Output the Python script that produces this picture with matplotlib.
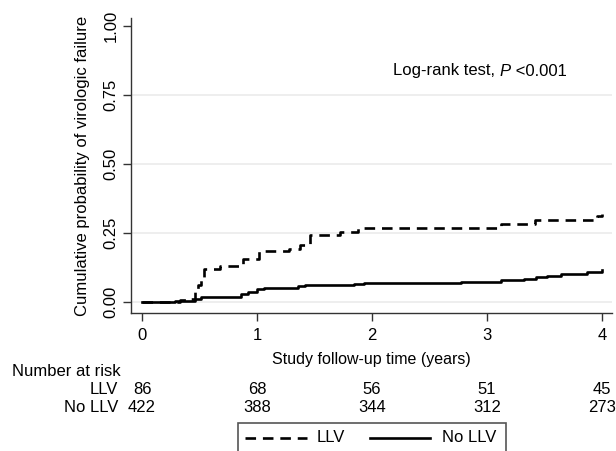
import matplotlib
matplotlib.use("Agg")
import matplotlib.pyplot as plt
from matplotlib.transforms import blended_transform_factory
from matplotlib.patches import Rectangle
from matplotlib.lines import Line2D

plt.rcParams['font.family'] = ['Liberation Sans', 'DejaVu Sans']

# Data
llv_t = [0.0, 0.33, 0.42, 0.46, 0.49, 0.51, 0.54, 0.68, 0.88, 1.02, 1.28, 1.37, 1.46, 1.72, 1.88, 3.12, 3.42, 3.96, 4.0]
llv_y = [0.0, 0.006, 0.012, 0.035, 0.06, 0.09, 0.118, 0.13, 0.154, 0.184, 0.192, 0.208, 0.242, 0.253, 0.268, 0.283, 0.298, 0.31, 0.32]
nollv_t = [0.0, 0.29, 0.46, 0.51, 0.86, 0.92, 1.0, 1.06, 1.36, 1.42, 1.84, 1.93, 2.77, 3.12, 3.32, 3.43, 3.52, 3.64, 3.87, 4.0]
nollv_y = [0.0, 0.004, 0.01, 0.019, 0.028, 0.037, 0.046, 0.052, 0.058, 0.061, 0.066, 0.07, 0.074, 0.078, 0.084, 0.089, 0.094, 0.10, 0.108, 0.115]

risk_times = [0, 1, 2, 3, 4]
risk_llv = [86, 68, 56, 51, 45]
risk_nollv = [422, 388, 344, 312, 273]
x_ticks = [0, 1, 2, 3, 4]
y_ticks = [0.0, 0.25, 0.50, 0.75, 1.00]
y_ticklabels = ["0.00", "0.25", "0.50", "0.75", "1.00"]

W, H = 616, 451
fig = plt.figure(figsize=(W / 100, H / 100), dpi=100)
left, right, bottom, top = 131, 612, 313, 18
ax = fig.add_axes([left / W, 1 - bottom / H, (right - left) / W, (bottom - top) / H])

ax.set_xlim(-0.0957, 4.087)
ax.set_ylim(-0.04, 1.029)

for yv in [0.0, 0.25, 0.5, 0.75]:
    ax.axhline(yv, color='#ebebeb', lw=1.2, zorder=0)

ax.step(llv_t, llv_y, where='post', color='black', lw=1.9, linestyle=(0, (4, 2.6)))
ax.step(nollv_t, nollv_y, where='post', color='black', lw=1.9)

for s in ['top', 'right']:
    ax.spines[s].set_visible(False)
for s in ['left', 'bottom']:
    ax.spines[s].set_color('#333333')
    ax.spines[s].set_linewidth(1.0)

ax.set_xticks(x_ticks)
ax.set_xticklabels([str(t) for t in x_ticks])
ax.set_yticks(y_ticks)
ax.set_yticklabels(y_ticklabels, rotation=90, va='center')
ax.tick_params(axis='both', labelsize=12, length=6, width=1.0, color='#333333')
ax.tick_params(axis='x', pad=5)
ax.tick_params(axis='y', pad=3)

ax.set_xlabel("Study follow-up time (years)", fontsize=11.5, labelpad=6)
ax.set_ylabel("Cumulative probability of virologic failure", fontsize=12, labelpad=10)

t1 = fig.text(393 / W, 1 - 71 / H, "Log-rank test, ", fontsize=12, va='center', ha='left')
fig.canvas.draw()
r = fig.canvas.get_renderer()
bb = t1.get_window_extent(r)
t2 = fig.text(bb.x1 / W, 1 - 71 / H, "P", fontsize=12, va='center', ha='left', style='italic')
bb2 = t2.get_window_extent(r)
fig.text(bb2.x1 / W, 1 - 71 / H, " <0.001", fontsize=12, va='center', ha='left')

# Risk table
tr = blended_transform_factory(ax.transData, fig.transFigure)
fig.text(12 / W, 1 - 372 / H, "Number at risk", fontsize=12, va='center', ha='left')
fig.text(118 / W, 1 - 389 / H, "LLV", fontsize=12, va='center', ha='right')
fig.text(118 / W, 1 - 407 / H, "No LLV", fontsize=12, va='center', ha='right')
for i, t in enumerate(risk_times):
    fig.text(t, 1 - 389 / H, str(risk_llv[i]), fontsize=12, va='center', ha='center', transform=tr)
    fig.text(t, 1 - 407 / H, str(risk_nollv[i]), fontsize=12, va='center', ha='center', transform=tr)

# Legend box
fig.patches.append(Rectangle((238 / W, -0.05), (506 - 238) / W, 0.05 + (1 - 423 / H),
                             transform=fig.transFigure, fill=False, edgecolor='#555555', lw=1.2))
ly = 1 - 438 / H
fig.lines.append(Line2D([245 / W, 307 / W], [ly, ly], transform=fig.transFigure, color='black',
                        lw=1.9, linestyle=(0, (4, 2.6))))
fig.text(317 / W, ly, "LLV", fontsize=12, va='center', ha='left')
fig.lines.append(Line2D([370 / W, 430 / W], [ly, ly], transform=fig.transFigure, color='black', lw=1.9))
fig.text(442 / W, ly, "No LLV", fontsize=12, va='center', ha='left')

fig.savefig("out.png", dpi=100)
